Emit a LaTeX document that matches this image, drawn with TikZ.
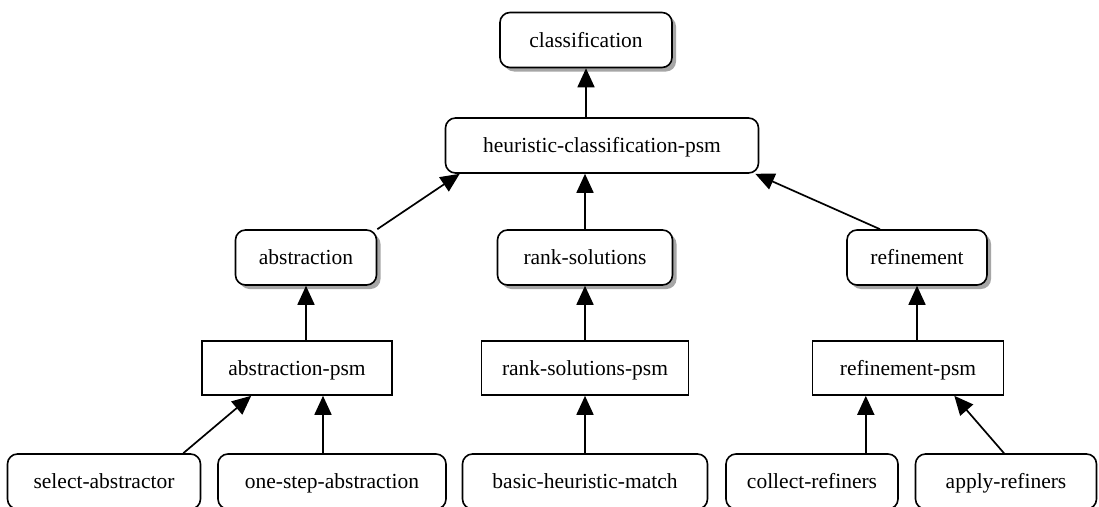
\documentclass[tikz,border=0pt]{standalone}
\usepackage{fontspec}
\setmainfont{Liberation Serif}
\usetikzlibrary{arrows.meta,shadows}

\tikzset{
  task/.style={draw, line width=1.6pt, rounded corners=10pt, fill=white, minimum height=55pt,
    inner sep=0pt, text height=17pt, text depth=3pt, font=\fontsize{21.5}{26}\selectfont,
    drop shadow={shadow xshift=4pt, shadow yshift=-4pt, fill=gray!70, opacity=1}},
  psm/.style={draw, line width=1.6pt, fill=white, minimum height=54pt, inner sep=0pt,
    text height=17pt, text depth=3pt, font=\fontsize{21.5}{26}\selectfont},
  leaf/.style={draw, line width=1.6pt, rounded corners=10pt, fill=white, minimum height=55pt,
    inner sep=0pt, text height=17pt, text depth=3pt, font=\fontsize{21.5}{26}\selectfont},
  arr/.style={line width=1.7pt, -{Triangle[length=19pt,width=17pt]}}
}

\begin{document}
\begin{tikzpicture}[x=1pt,y=-1pt]
    \useasboundingbox[fill=white] (0,0) rectangle (1099,506);

    \node[task, minimum width=172pt] (class) at (586,40) {classification};
    \node[leaf, minimum width=313pt] (heur) at (602,145.5) {heuristic-classification-psm};

    \node[task, minimum width=141pt] (abs) at (306,257.5) {abstraction};
    \node[task, minimum width=175pt] (rank) at (585,257.5) {rank-solutions};
    \node[task, minimum width=140pt] (ref) at (917,257.5) {refinement};

    \node[psm, minimum width=190pt] (abspsm) at (297,368) {abstraction-psm};
    \node[psm, minimum width=207pt] (rankpsm) at (585,368) {rank-solutions-psm};
    \node[psm, minimum width=191pt] (refpsm) at (908,368) {refinement-psm};

    \node[leaf, minimum width=193pt] (sel) at (104,481.5) {select-abstractor};
    \node[leaf, minimum width=228pt] (one) at (332,481.5) {one-step-abstraction};
    \node[leaf, minimum width=245pt] (basic) at (585,481.5) {basic-heuristic-match};
    \node[leaf, minimum width=172pt] (coll) at (812,481.5) {collect-refiners};
    \node[leaf, minimum width=181pt] (apply) at (1006,481.5) {apply-refiners};

    \draw[arr] (heur.north -| class.south) -- (class.south);
    \draw[arr] (abs.north east) -- ([xshift=15pt]heur.south west);
    \draw[arr] (rank.north) -- (rank.north |- heur.south);
    \draw[arr] ([xshift=-37pt]ref.north) -- ([xshift=-4pt]heur.south east);

    \draw[arr] (abs.south |- abspsm.north) -- (abs.south);
    \draw[arr] (rankpsm.north) -- (rank.south);
    \draw[arr] (ref.south |- refpsm.north) -- (ref.south);

    \draw[arr] ([xshift=-18pt]sel.north east) -- ([xshift=50pt]abspsm.south west);
    \draw[arr] ([xshift=-9pt]one.north) -- ([xshift=-9pt]one.north |- abspsm.south);
    \draw[arr] (basic.north) -- (rankpsm.south);
    \draw[arr] ([xshift=-33pt]coll.north east) -- ([xshift=-33pt]coll.north east |- refpsm.south);
    \draw[arr] ([xshift=-2pt]apply.north) -- ([xshift=-50pt]refpsm.south east);
  \end{tikzpicture}
\end{document}
